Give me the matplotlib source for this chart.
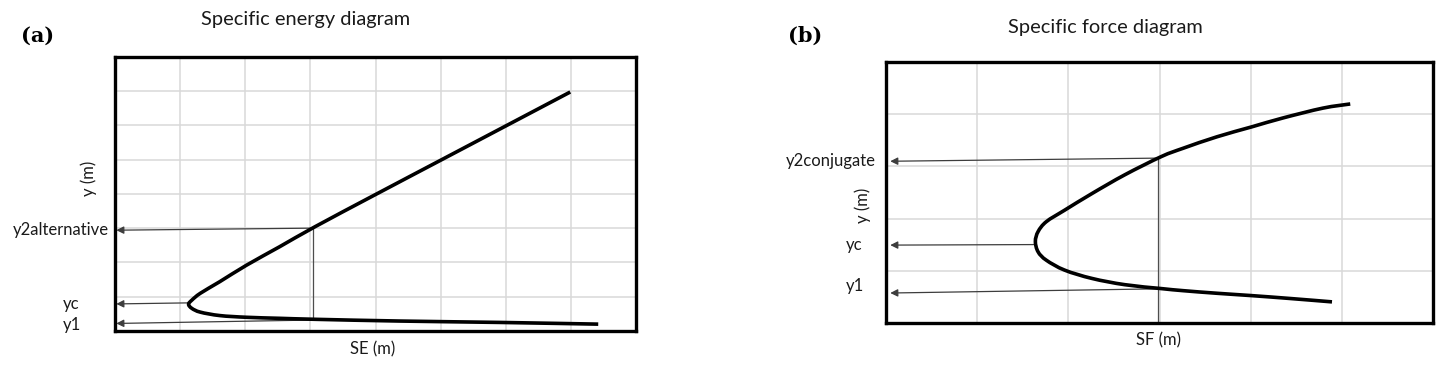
import matplotlib
matplotlib.use("Agg")
import matplotlib.pyplot as plt
from matplotlib.path import Path
from matplotlib.patches import PathPatch

# (a) specific energy curve (SE, y) in grid units
se_x = [6.99, 5.99, 4.99, 3.99, 3.07, 2.53, 2.02, 1.61, 1.31, 1.18, 1.13,
        1.18, 1.31, 1.61, 2.02, 2.53, 3.10, 4.38, 5.91, 7.42]
se_y = [6.97, 5.97, 4.97, 3.97, 3.04, 2.46, 1.92, 1.44, 1.10, 0.90, 0.78,
        0.66, 0.55, 0.45, 0.40, 0.37, 0.34, 0.29, 0.25, 0.20]

# (b) specific force curve (SF, y)
sf_x = [5.09, 4.79, 4.35, 4.01, 3.63, 3.26, 3.02, 2.62, 2.26, 1.96, 1.76, 1.67, 1.64,
        1.67, 1.76, 1.96, 2.26, 2.62, 3.02, 3.26, 3.63, 4.01, 4.43, 4.89]
sf_y = [4.20, 4.12, 3.93, 3.76, 3.57, 3.35, 3.19, 2.84, 2.48, 2.16, 1.94, 1.75, 1.56,
        1.36, 1.20, 1.01, 0.85, 0.73, 0.655, 0.615, 0.565, 0.52, 0.465, 0.40]

# depth markers: label, tail (x, y) on curve, arrow head y at the axis, label y
a_labels = ["y2alternative", "yc", "y1"]
a_tail_x = [3.04, 1.12, 3.04]
a_tail_y = [3.00, 0.82, 0.32]
a_head_y = [2.94, 0.79, 0.22]
a_text_y = [2.94, 0.80, 0.17]
a_drop = (3.04, 3.00, 0.36)

b_labels = ["y2conjugate", "yc", "y1"]
b_tail_x = [2.98, 1.62, 2.98]
b_tail_y = [3.16, 1.50, 0.65]
b_head_y = [3.10, 1.49, 0.57]
b_text_y = [3.10, 1.49, 0.70]
b_drop = (2.98, 3.16, 0.0)

FONT = "Lato"
TXT = "#1a1a1a"
W, H = 1444, 369
fig = plt.figure(figsize=(W / 100, H / 100), dpi=100)


def make_axes(rect, nx, ny):
    ax = fig.add_axes(rect)
    ax.set_xlim(0, nx)
    ax.set_ylim(0, ny)
    ax.set_xticks(range(nx + 1))
    ax.set_yticks(range(ny + 1))
    ax.tick_params(length=0, labelbottom=False, labelleft=False)
    ax.grid(True, color="#d9d9d9", lw=1.1)
    ax.set_axisbelow(True)
    for s in ax.spines.values():
        s.set_linewidth(2.4)
        s.set_color("black")
    return ax


def smooth_curve(ax, xs, ys):
    # catmull-rom through the read points, drawn as cubic bezier segments
    pts = list(zip(xs, ys))
    verts = [pts[0]]
    codes = [Path.MOVETO]
    for i in range(len(pts) - 1):
        p0 = pts[max(i - 1, 0)]
        p1 = pts[i]
        p2 = pts[i + 1]
        p3 = pts[min(i + 2, len(pts) - 1)]
        c1 = (p1[0] + (p2[0] - p0[0]) / 6, p1[1] + (p2[1] - p0[1]) / 6)
        c2 = (p2[0] - (p3[0] - p1[0]) / 6, p2[1] - (p3[1] - p1[1]) / 6)
        verts += [c1, c2, p2]
        codes += [Path.CURVE4] * 3
    ax.add_patch(PathPatch(Path(verts, codes), fill=False, ec="black", lw=2.6,
                           capstyle="butt", zorder=4))


def arrows(ax, tx, ty, hy, head_x):
    for x0, y0, y1 in zip(tx, ty, hy):
        ax.annotate("", xy=(head_x, y1), xytext=(x0, y0),
                    arrowprops=dict(arrowstyle="-|>", color="#3d3d3d", lw=0.9,
                                    mutation_scale=11, shrinkA=0, shrinkB=0),
                    zorder=3)


# ---- panel (a)
axa = make_axes([115 / W, 1 - 331 / H, 521 / W, 274.3 / H], 8, 8)
smooth_curve(axa, se_x, se_y)
axa.plot([a_drop[0], a_drop[0]], [a_drop[1], a_drop[2]], color="#4d4d4d", lw=0.9)
arrows(axa, a_tail_x, a_tail_y, a_head_y, 0.02)
axa.annotate(a_labels[0], xy=(0, a_text_y[0]), xytext=(-6, 0), textcoords="offset pixels",
             ha="right", va="center", fontsize=12, family=FONT, color=TXT)
for lab, yy in zip(a_labels[1:], a_text_y[1:]):
    axa.annotate(lab, xy=(0, yy), xytext=(-52, 0), textcoords="offset pixels",
                 ha="left", va="center", fontsize=12, family=FONT, color=TXT)

# ---- panel (b)
axb = make_axes([885.7 / W, 1 - 322.7 / H, 547.6 / W, 260.4 / H], 6, 5)
smooth_curve(axb, sf_x, sf_y)
axb.plot([b_drop[0], b_drop[0]], [b_drop[1], b_drop[2]], color="#4d4d4d", lw=0.9)
arrows(axb, b_tail_x, b_tail_y, b_head_y, 0.05)
axb.annotate(b_labels[0], xy=(0, b_text_y[0]), xytext=(-10, 0), textcoords="offset pixels",
             ha="right", va="center", fontsize=12, family=FONT, color=TXT)
for lab, yy in zip(b_labels[1:], b_text_y[1:]):
    axb.annotate(lab, xy=(0, yy), xytext=(-40, 0), textcoords="offset pixels",
                 ha="left", va="center", fontsize=12, family=FONT, color=TXT)


# titles, axis names and panel letters (figure pixel positions)
def ftext(x, y, s, **kw):
    fig.text(x / W, 1 - y / H, s, **kw)


ftext(306, 20, "Specific energy diagram", ha="center", va="center", fontsize=14.4,
      family=FONT, color=TXT)
ftext(1105, 28, "Specific force diagram", ha="center", va="center", fontsize=14.4,
      family=FONT, color=TXT)
ftext(373, 349, "SE (m)", ha="center", va="center", fontsize=12, family=FONT, color=TXT)
ftext(1159, 340, "SF (m)", ha="center", va="center", fontsize=12, family=FONT, color=TXT)
ftext(89, 178, "y (m)", ha="center", va="center", rotation=90, fontsize=12,
      family=FONT, color=TXT)
ftext(863, 205, "y (m)", ha="center", va="center", rotation=90, fontsize=12,
      family=FONT, color=TXT)
ftext(38, 36, "(a)", ha="center", va="center", fontsize=15, family="DejaVu Serif",
      fontweight="bold")
ftext(805, 36, "(b)", ha="center", va="center", fontsize=15, family="DejaVu Serif",
      fontweight="bold")

fig.savefig("out.png", dpi=100)
